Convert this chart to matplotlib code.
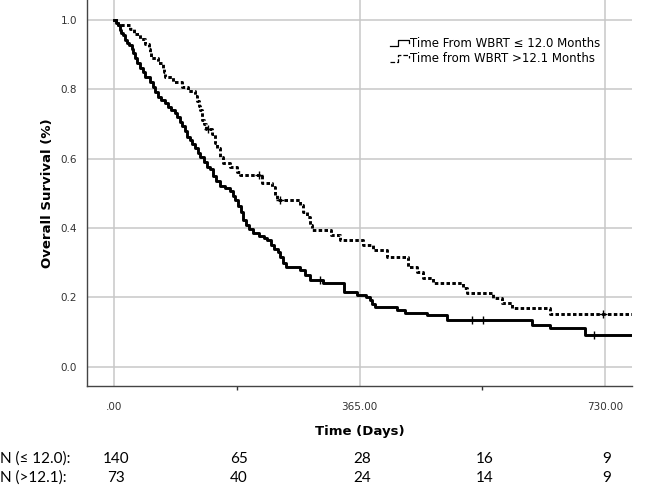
import matplotlib
matplotlib.use("Agg")
import matplotlib.pyplot as plt
from matplotlib.lines import Line2D
from matplotlib.legend_handler import HandlerBase
from matplotlib.transforms import blended_transform_factory

# Kaplan-Meier steps (days, survival)
t_early = [0, 3, 5, 8, 10, 13, 16, 19, 22, 26, 28, 31, 34, 38, 42, 46, 53, 57, 61, 65,
           70, 75, 80, 85, 90, 94, 98, 101, 105, 108, 112, 116, 120, 124, 128, 133, 138,
           142, 147, 152, 157, 165, 172, 176, 180, 184, 188, 192, 196, 201, 207, 215,
           222, 227, 233, 237, 243, 247, 251, 255, 276, 284, 291, 311, 341, 361, 375,
           380, 384, 388, 420, 433, 465, 495, 621, 648, 700, 770]
s_early = [1.0, 0.993, 0.986, 0.971, 0.964, 0.957, 0.942, 0.935, 0.928, 0.918, 0.904,
           0.89, 0.876, 0.861, 0.85, 0.836, 0.822, 0.807, 0.793, 0.779, 0.769, 0.76, 0.75,
           0.74, 0.731, 0.719, 0.707, 0.693, 0.679, 0.664, 0.655, 0.643, 0.63, 0.617,
           0.605, 0.59, 0.577, 0.569, 0.55, 0.536, 0.522, 0.515, 0.507, 0.493, 0.481,
           0.464, 0.445, 0.423, 0.41, 0.397, 0.385, 0.378, 0.372, 0.365, 0.35, 0.34,
           0.33, 0.317, 0.3, 0.288, 0.279, 0.264, 0.25, 0.24, 0.216, 0.207, 0.2, 0.192,
           0.182, 0.173, 0.164, 0.156, 0.149, 0.135, 0.12, 0.111, 0.091, 0.091]
cens_early_t = [306, 532, 549, 713]

t_late = [0, 5, 23, 30, 38, 45, 51, 53, 55, 65, 73, 74, 75, 88, 100, 110, 120, 123, 126,
          128, 130, 131, 133, 136, 145, 150, 153, 157, 162, 172, 182, 187, 219, 234, 239,
          242, 276, 281, 286, 291, 294, 323, 336, 370, 385, 405, 437, 450, 459, 474, 518,
          525, 564, 576, 591, 648, 770]
s_late = [1.0, 0.986, 0.973, 0.959, 0.945, 0.932, 0.918, 0.904, 0.89, 0.877, 0.863,
          0.849, 0.836, 0.822, 0.808, 0.795, 0.781, 0.767, 0.753, 0.74, 0.726, 0.712,
          0.699, 0.685, 0.671, 0.644, 0.63, 0.606, 0.587, 0.577, 0.562, 0.553, 0.529,
          0.519, 0.495, 0.481, 0.466, 0.446, 0.433, 0.409, 0.394, 0.38, 0.366, 0.351,
          0.337, 0.317, 0.288, 0.274, 0.256, 0.242, 0.227, 0.213, 0.197, 0.183, 0.168,
          0.152, 0.152]
cens_late_t = [140, 215, 247, 727]

# numbers at risk
risk_days = [0, 182.5, 365, 547.5, 730]
risk_early = [140, 65, 28, 16, 9]
risk_late = [73, 40, 24, 14, 9]


def surv_at(ts, ss, t):
    v = ss[0]
    for a, b in zip(ts, ss):
        if a <= t:
            v = b
    return v


class StepHandler(HandlerBase):
    def create_artists(self, legend, orig_handle, xdescent, ydescent, width, height, fontsize, trans):
        x0 = -xdescent
        xs = [x0, x0 + 0.4 * width, x0 + 0.4 * width, x0 + width, x0 + width]
        ys = [0.05 * height, 0.05 * height, 0.85 * height, 0.85 * height, 0.45 * height]
        ln = Line2D(xs, ys, color="black", lw=0.9, ls=orig_handle.get_linestyle(), transform=trans)
        return [ln]


fig = plt.figure(figsize=(6.49, 4.88), dpi=100)
ax = fig.add_axes([0.1336, 0.2096, 0.8402, 0.7904])

dash = (0, (1.2, 0.8))
ax.step(t_early, s_early, where="post", color="black", lw=2.1)
ax.step(t_late, s_late, where="post", color="black", lw=2.1, ls=dash)
ax.plot(cens_early_t, [surv_at(t_early, s_early, t) for t in cens_early_t], "+",
        color="black", ms=6, mew=1.0)
ax.plot(cens_late_t, [surv_at(t_late, s_late, t) for t in cens_late_t], "+",
        color="black", ms=6, mew=1.0)

ax.set_xlim(-41, 770)
ax.set_ylim(-0.055, 1.058)
ax.set_xticks([0, 365, 730])
ax.set_xticklabels([".00", "365.00", "730.00"])
ax.set_xticks([182.5, 547.5], minor=True)
ax.set_yticks([0.0, 0.2, 0.4, 0.6, 0.8, 1.0])
ax.set_yticklabels(["0.0", "0.2", "0.4", "0.6", "0.8", "1.0"])
ax.tick_params(axis="both", which="major", length=0, labelsize=7.5, colors="#333333", pad=12)
ax.tick_params(axis="y", which="major", pad=7)
ax.tick_params(axis="x", which="minor", length=3, width=1, color="#333333", direction="out")
ax.grid(True, which="major", color="#c8c8c8", lw=1.1)
ax.set_axisbelow(True)
for s in ["top", "right"]:
    ax.spines[s].set_visible(False)
for s in ["left", "bottom"]:
    ax.spines[s].set_color("#444444")
    ax.spines[s].set_linewidth(1.0)

ax.set_xlabel("Time (Days)", fontsize=9.5, fontweight="bold", labelpad=9)
ax.set_ylabel("Overall Survival (%)", fontsize=9.5, fontweight="bold", labelpad=5)

h1 = Line2D([], [], color="black", ls="-")
h2 = Line2D([], [], color="black", ls=(0, (1.5, 1.5)))
ax.legend([h1, h2], ["Time From WBRT \u2264 12.0 Months", "Time from WBRT >12.1 Months"],
          handler_map={Line2D: StepHandler()}, loc="upper left",
          bbox_to_anchor=(0.546, 0.92), frameon=False, fontsize=8.5, handlelength=1.6,
          handletextpad=0.1, labelspacing=0.2, borderpad=0)

tr = blended_transform_factory(ax.transData, fig.transFigure)
for d, a, b in zip(risk_days, risk_early, risk_late):
    ax.text(d + 3, 1 - 459 / 488, str(a), transform=tr, ha="center", va="center",
            fontsize=11, family="Lato")
    ax.text(d + 3, 1 - 478 / 488, str(b), transform=tr, ha="center", va="center",
            fontsize=11, family="Lato")
fig.text(0.0, 1 - 459 / 488, "N (\u2264 12.0):", ha="left", va="center", fontsize=11,
         family=["Lato", "DejaVu Sans"])
fig.text(0.0, 1 - 478 / 488, "N (>12.1):", ha="left", va="center", fontsize=11,
         family=["Lato", "DejaVu Sans"])

fig.savefig("out.png", dpi=100)
